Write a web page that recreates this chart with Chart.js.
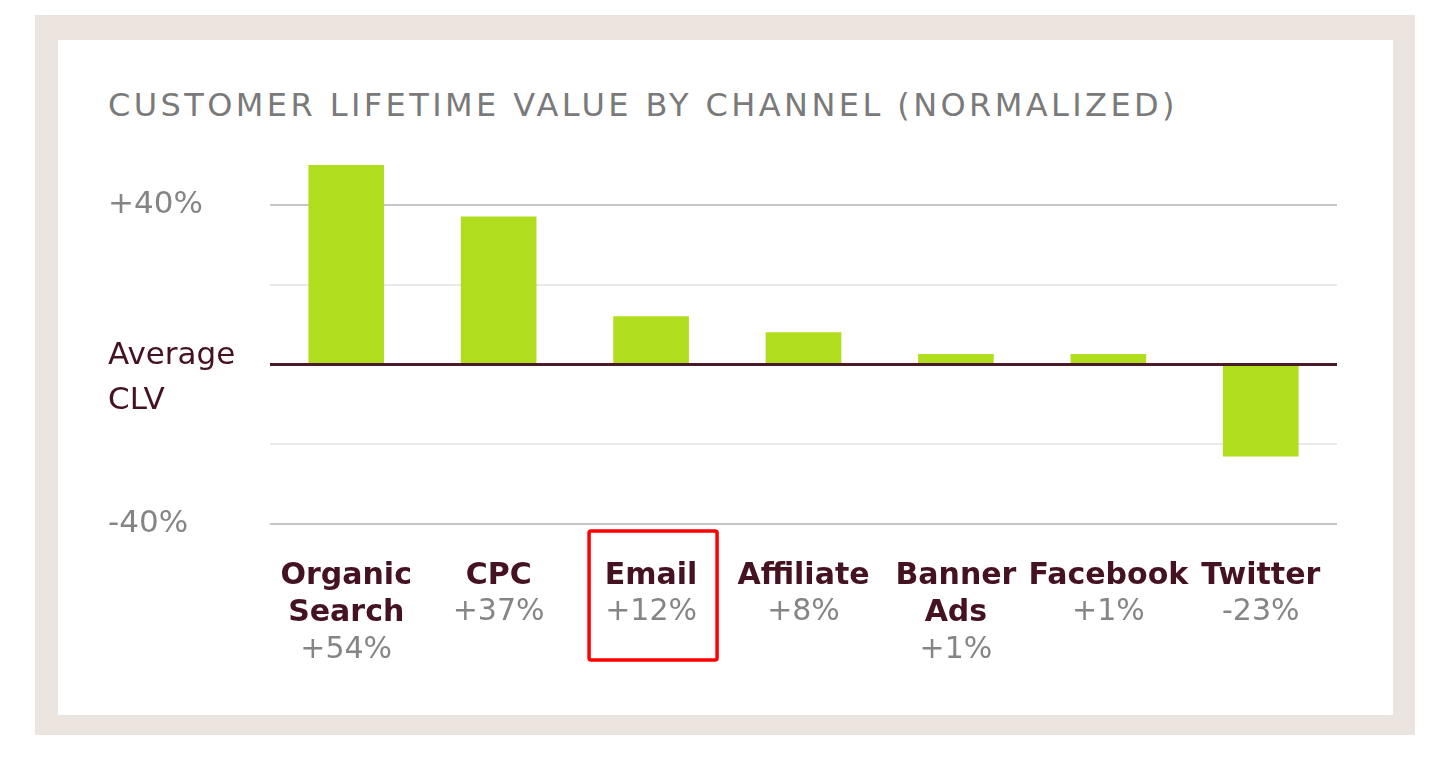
<!DOCTYPE html>
<html>
<head>
<meta charset="utf-8">
<script src="https://cdn.jsdelivr.net/npm/chart.js@4.4.1/dist/chart.umd.min.js"></script>
<style>
html,body{margin:0;padding:0;background:#fff;}
#frame{position:absolute;left:35px;top:15px;width:1380px;height:720px;background:#ebe4df;}
#panel{position:absolute;left:58px;top:40px;width:1335px;height:675px;background:#fff;}
#title{position:absolute;left:108px;top:89px;font-family:"DejaVu Sans";font-size:32px;line-height:1;color:#7a7a7a;white-space:nowrap;}
#wrap{position:absolute;left:0;top:0;width:1432px;height:760px;}
</style>
</head>
<body>
<div id="frame"></div>
<div id="panel"></div>
<div id="title">CUSTOMER LIFETIME VALUE BY CHANNEL (NORMALIZED)</div>
<div id="wrap"><canvas id="clvChart"></canvas></div>
<script>
// data
var channels=[['Organic','Search'],['CPC'],['Email'],['Affiliate'],['Banner','Ads'],['Facebook'],['Twitter']];
var clv=[54,37,12,8,1,1,-23];
var yTicks=[-40,-20,0,20,40];
var yTickLabels={'40':'+40%','-40':'-40%'};
var zeroLabel=['Average','CLV'];
var highlighted='Email';

var maroon='#451222';
var gray='#858585';

// stretch the title to the width it has in the picture
var title=document.getElementById('title');
var w=title.getBoundingClientRect().width;
title.style.letterSpacing=((1070-w)/title.textContent.length)+'px';

function fmt(v){ return (v>0?'+':'')+v+'%'; }

var overlay={
	id:'overlay',
	afterDatasetsDraw:function(chart){
		var ctx=chart.ctx, y=chart.scales.y, a=chart.chartArea;
		var y0=y.getPixelForValue(0);
		ctx.save();
		ctx.strokeStyle='#4a1a2a';
		ctx.lineWidth=3;
		ctx.beginPath();
		ctx.moveTo(a.left,y0);
		ctx.lineTo(a.right,y0);
		ctx.stroke();
		ctx.restore();
	},
	afterDraw:function(chart){
		var ctx=chart.ctx, x=chart.scales.x, y=chart.scales.y;
		ctx.save();

		//average label next to the zero line
		ctx.fillStyle=maroon;
		ctx.font='31px "DejaVu Sans"';
		ctx.textAlign='left';
		ctx.textBaseline='middle';
		var y0=y.getPixelForValue(0);
		ctx.fillText(zeroLabel[0],108,y0-8);
		ctx.fillText(zeroLabel[1],108,y0+37);

		//values under the channel names
		ctx.fillStyle=gray;
		ctx.font='30px "DejaVu Sans"';
		ctx.textAlign='center';
		var first=x.top+32+18.75;
		for(var i=0;i<clv.length;i++){
			var cx=x.getPixelForValue(i);
			ctx.fillText(fmt(clv[i]),cx,first+channels[i].length*37.5);
		}

		//red box round the highlighted channel
		var hi=-1;
		for(var j=0;j<channels.length;j++){ if(channels[j].join(' ')==highlighted) hi=j; }
		if(hi!=-1){
			var hx=x.getPixelForValue(hi);
			ctx.strokeStyle='#f00';
			ctx.lineWidth=3.5;
			ctx.beginPath();
			ctx.roundRect(hx-62,x.top+7,128,129,2);
			ctx.stroke();
		}
		ctx.restore();
	}
};

var ctx1=document.getElementById('clvChart');
var c1=new Chart(ctx1,{
	type:'bar',
	data:{
		labels:channels,
		datasets:[{
			data:clv,
			backgroundColor:'#b0de1f',
			barThickness:75,
			minBarLength:10
		}]
	},
	options:{
		responsive:true,
		maintainAspectRatio:false,
		animation:false,
		layout:{padding:{left:108,right:95,top:165,bottom:0}},
		plugins:{legend:{display:false},tooltip:{enabled:false}},
		scales:{
			x:{
				grid:{display:false,drawTicks:false},
				border:{display:false},
				afterFit:function(s){ s.height=236; },
				ticks:{
					color:maroon,
					font:{family:'DejaVu Sans',size:30,weight:'bold',lineHeight:1.25},
					padding:33,
					maxRotation:0,
					autoSkip:false
				}
			},
			y:{
				min:-40,
				max:50,
				afterBuildTicks:function(s){ s.ticks=yTicks.map(function(v){ return {value:v}; }); },
				afterFit:function(s){ s.width=162; },
				border:{display:false},
				grid:{
					drawTicks:false,
					lineWidth:2,
					color:function(c){
						var v=c.tick.value;
						if(v==0) return 'rgba(0,0,0,0)';
						if(Math.abs(v)==40) return '#c6c6c6';
						return '#e9e9e9';
					}
				},
				ticks:{
					color:gray,
					padding:0,
					crossAlign:'far',
					font:{family:'DejaVu Sans',size:31},
					callback:function(v){ return yTickLabels[v]||''; }
				}
			}
		}
	},
	plugins:[overlay]
});
</script>
</body>
</html>
